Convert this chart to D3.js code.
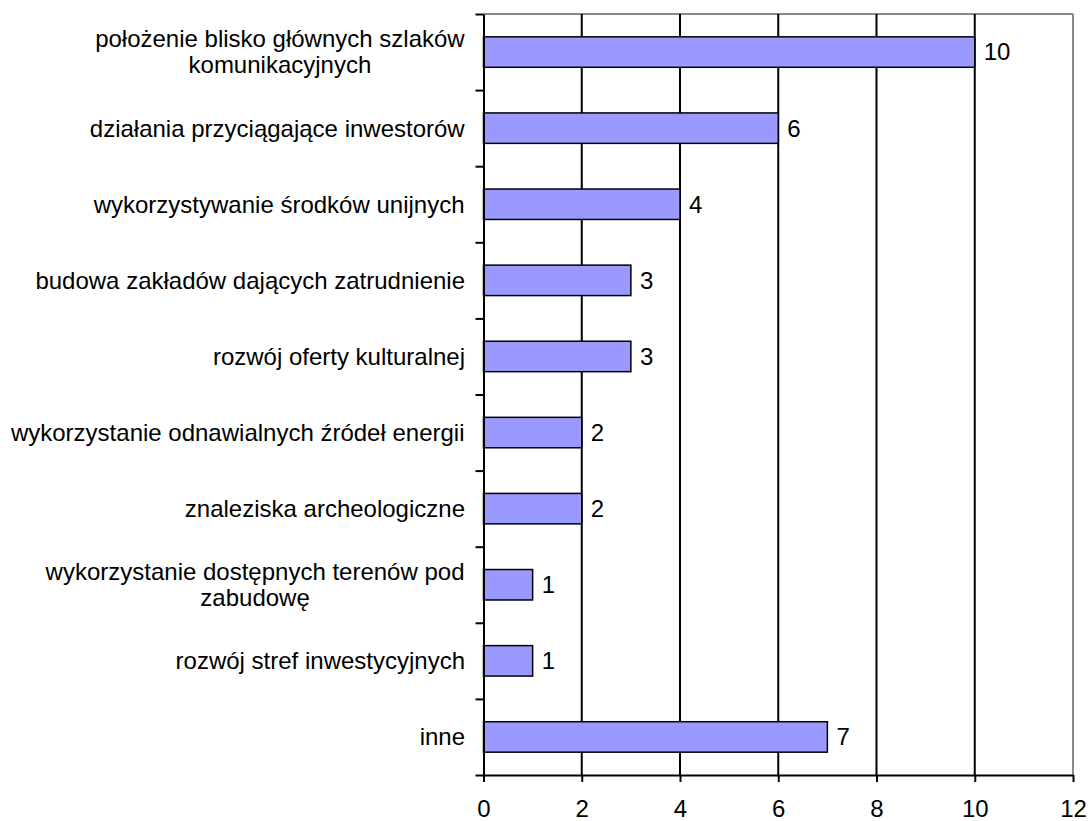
<!DOCTYPE html>
<html><head><meta charset="utf-8">
<script src="https://cdn.jsdelivr.net/npm/d3@7"></script>
<style>body{margin:0;background:#fff}svg{display:block}text{font-family:"Liberation Sans",Arial,sans-serif}</style>
</head><body><svg id="c" width="1092" height="821"></svg>
<script>
const categories = [
  ["położenie blisko głównych szlaków","komunikacyjnych"],
  ["działania przyciągające inwestorów"],
  ["wykorzystywanie środków unijnych"],
  ["budowa zakładów dających zatrudnienie"],
  ["rozwój oferty kulturalnej"],
  ["wykorzystanie odnawialnych źródeł energii"],
  ["znaleziska archeologiczne"],
  ["wykorzystanie dostępnych terenów pod","zabudowę"],
  ["rozwój stref inwestycyjnych"],
  ["inne"]
];
const values = [10, 6, 4, 3, 3, 2, 2, 1, 1, 7];
const xTicks = [0, 2, 4, 6, 8, 10, 12];

const FS = 24;
const svg = d3.select("#c");
const L = 483.5, R = 1073, T = 14, B = 775;
const x = d3.scaleLinear().domain([0, 12]).range([L, R]);
const y = d3.scaleBand().domain(d3.range(categories.length)).range([T, B]).paddingInner(0.6).paddingOuter(0.3);
const yb = d3.scaleBand().domain(d3.range(categories.length)).range([T, B]);

// plot border top/right gray
svg.append("line").attr("x1", L).attr("x2", R).attr("y1", T).attr("y2", T).attr("stroke", "#888").attr("stroke-width", 2);
svg.append("line").attr("x1", R).attr("x2", R).attr("y1", T).attr("y2", B).attr("stroke", "#888").attr("stroke-width", 2);

// gridlines
svg.append("g").selectAll("line").data(xTicks.filter(d => d > 0 && d < 12)).join("line")
  .attr("x1", d => x(d)).attr("x2", d => x(d)).attr("y1", T).attr("y2", B)
  .attr("stroke", "#000").attr("stroke-width", 2);

// bars
svg.append("g").selectAll("rect").data(values).join("rect")
  .attr("x", x(0)).attr("y", (d, i) => y(i))
  .attr("width", d => x(d) - x(0)).attr("height", y.bandwidth())
  .attr("fill", "#9999ff").attr("stroke", "#000").attr("stroke-width", 1.5);

// value labels
svg.append("g").selectAll("text").data(values).join("text")
  .attr("x", d => x(d) + 9).attr("y", (d, i) => y(i) + y.bandwidth() / 2)
  .attr("dy", "0.35em").attr("font-size", FS).attr("fill", "#000").text(d => d);

// x axis
const xAxis = d3.axisBottom(x).tickValues(xTicks).tickSize(7).tickPadding(18).tickSizeOuter(0);
const gx = svg.append("g").attr("transform", `translate(0,${B})`).call(xAxis);
gx.select(".domain").attr("stroke", "#000").attr("stroke-width", 2);
gx.selectAll(".tick line").attr("stroke", "#000").attr("stroke-width", 2);
gx.selectAll(".tick text").attr("font-size", FS).attr("font-family", '"Liberation Sans",Arial,sans-serif').attr("fill", "#000");

// y axis with ticks at category boundaries
const yAxis = d3.axisLeft(d3.scaleLinear().domain([0, categories.length]).range([T, B]))
  .tickValues(d3.range(categories.length + 1)).tickSize(8).tickFormat("").tickSizeOuter(0);
const gy = svg.append("g").attr("transform", `translate(${L},0)`).call(yAxis);
gy.select(".domain").attr("stroke", "#000").attr("stroke-width", 2);
gy.selectAll(".tick line").attr("stroke", "#000").attr("stroke-width", 2);

// category labels
const labelRight = 465, lh = 26;
categories.forEach((lines, i) => {
  const cy = yb(i) + yb.bandwidth() / 2;
  const t = svg.append("text").attr("font-size", FS).attr("fill", "#000").attr("text-anchor", "middle");
  lines.forEach((s, k) => {
    t.append("tspan").attr("x", 0).attr("y", cy + (k - (lines.length - 1) / 2) * lh).attr("dy", "0.35em").text(s);
  });
  const w = t.node().getBBox().width;
  t.attr("transform", `translate(${labelRight - w / 2},0)`);
});
</script></body></html>
